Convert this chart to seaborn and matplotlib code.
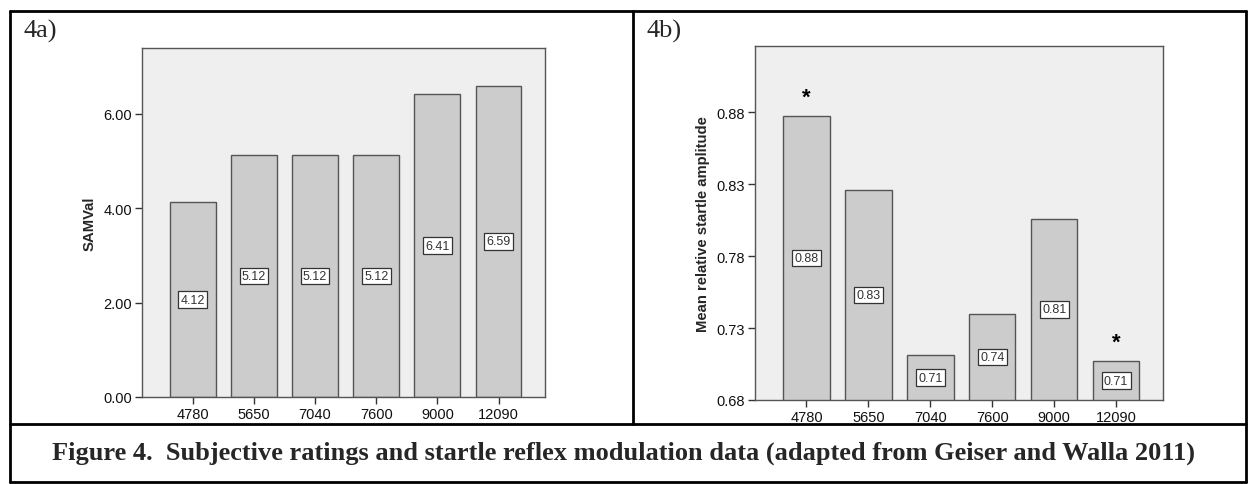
import matplotlib
matplotlib.use("Agg")
import matplotlib.pyplot as plt
import seaborn as sns
import pandas as pd
from matplotlib.lines import Line2D

# data
freqs = ["4780", "5650", "7040", "7600", "9000", "12090"]
sam_val = [4.12, 5.12, 5.12, 5.12, 6.41, 6.59]
startle = [0.877, 0.826, 0.711, 0.740, 0.806, 0.707]
startle_labels = ["0.88", "0.83", "0.71", "0.74", "0.81", "0.71"]
starred = ["4780", "12090"]

sns.set_style("white")
plt.rcParams["font.family"] = ["Liberation Sans", "DejaVu Sans"]

fig = plt.figure(figsize=(12.48, 4.85), dpi=100)

bar_kw = dict(color="#cccccc", edgecolor="#555555", linewidth=1.0, width=0.75)


def style_axes(ax):
    ax.set_facecolor("#efefef")
    for s in ax.spines.values():
        s.set_color("#555555")
        s.set_linewidth(1.0)
    ax.tick_params(axis="both", direction="out", length=5, width=1,
                   color="#333333", labelsize=10.5, labelcolor="#111111",
                   left=True, bottom=True, pad=2)
    ax.set_xlabel("")
    ax.set_xlim(-0.83, 5.76)


def value_box(ax, x, y, txt):
    ax.text(x, y, txt, ha="center", va="center", fontsize=9, color="#333333",
            bbox=dict(boxstyle="square,pad=0.18", fc="white", ec="#333333", lw=0.9))


# panel a
df_a = pd.DataFrame({"freq": freqs, "SAMVal": sam_val})
ax1 = fig.add_axes([0.1138, 0.1794, 0.3229, 0.7196])
sns.barplot(data=df_a, x="freq", y="SAMVal", order=freqs, ax=ax1, **bar_kw)
style_axes(ax1)
ax1.set_ylim(0, 7.39)
ax1.set_yticks([0, 2, 4, 6])
ax1.set_yticklabels(["0.00", "2.00", "4.00", "6.00"])
ax1.set_ylabel("SAMVal", fontsize=10.7, fontweight="bold", labelpad=5)
for i, v in enumerate(sam_val):
    value_box(ax1, i, v / 2, f"{v:.2f}")

# panel b
df_b = pd.DataFrame({"freq": freqs, "amp": startle})
ax2 = fig.add_axes([0.605, 0.1732, 0.327, 0.730])
sns.barplot(data=df_b, x="freq", y="amp", order=freqs, ax=ax2, **bar_kw)
style_axes(ax2)
lo, hi = 0.68, 0.926
ax2.set_ylim(lo, hi)
ax2.set_yticks([0.68, 0.73, 0.78, 0.83, 0.88])
ax2.set_yticklabels(["0.68", "0.73", "0.78", "0.83", "0.88"])
ax2.set_ylabel("Mean relative startle amplitude", fontsize=10.7,
               fontweight="bold", labelpad=5)
for i, (v, t) in enumerate(zip(startle, startle_labels)):
    value_box(ax2, i, (lo + v) / 2, t)
    if freqs[i] in starred:
        ax2.text(i, v + 0.0095, "*", ha="center", va="baseline", fontsize=16,
                 fontweight="bold", color="black")

# panel letters and caption
fig.text(24 / 1248, 1 - 31 / 485, "4a)", fontsize=19, family="Liberation Serif",
         va="center", ha="left")
fig.text(646 / 1248, 1 - 31 / 485, "4b)", fontsize=19, family="Liberation Serif",
         va="center", ha="left")
fig.text(0.5, 1 - 453 / 485,
         "Figure 4.  Subjective ratings and startle reflex modulation data "
         "(adapted from Geiser and Walla 2011)",
         fontsize=19, fontweight="bold", family="Liberation Serif",
         ha="center", va="center")

# frame lines of the table
def fline(x0, y0, x1, y1):
    fig.add_artist(Line2D([x0 / 1248, x1 / 1248], [1 - y0 / 485, 1 - y1 / 485],
                          color="black", lw=2))

fline(10, 12, 1246, 12)
fline(10, 483, 1246, 483)
fline(10, 12, 10, 483)
fline(1246, 12, 1246, 483)
fline(10, 425, 1246, 425)
fline(633, 12, 633, 425)

fig.savefig("out.png", dpi=100, facecolor="white")
